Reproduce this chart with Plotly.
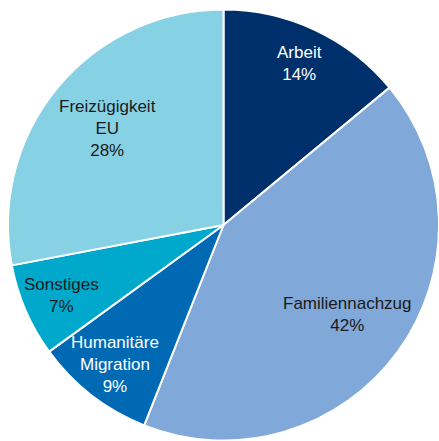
import math
import plotly.graph_objects as go

# Migration to Germany by reason (share in %)
categories = ["Arbeit", "Familiennachzug", "Humanitäre<br>Migration", "Sonstiges", "Freizügigkeit<br>EU"]
shares = [14, 42, 9, 7, 28]

colors = ["#00306B", "#80A8D8", "#0069B3", "#00A9CB", "#87D1E4"]
text_colors = ["#FFFFFF", "#1A1A1A", "#FFFFFF", "#1A1A1A", "#1A1A1A"]
label_radius = [0.83, 0.71, 0.82, 0.82, 0.70]  # label distance from centre, fraction of radius

W, H = 439, 441
dom_x = [8 / W, 1.0]
dom_y = [0.0, 432 / H]

fig = go.Figure(go.Pie(
    labels=categories,
    values=shares,
    sort=False,
    direction="clockwise",
    rotation=0,
    marker=dict(colors=colors, line=dict(color="#FFFFFF", width=2)),
    textinfo="none",
    hoverinfo="label+percent",
    showlegend=False,
    domain=dict(x=dom_x, y=dom_y),
))

# pie geometry in pixels (paper y measured upwards)
cx = (dom_x[0] + dom_x[1]) / 2 * W
cy = (dom_y[0] + dom_y[1]) / 2 * H
r = min((dom_x[1] - dom_x[0]) * W, (dom_y[1] - dom_y[0]) * H) / 2

total = sum(shares)
cum = 0
for name, v, tc, k in zip(categories, shares, text_colors, label_radius):
    theta = 2 * math.pi * (cum + v / 2) / total
    cum += v
    x = cx + k * r * math.sin(theta)
    y = cy + k * r * math.cos(theta)
    fig.add_annotation(
        x=x / W, y=y / H, xref="paper", yref="paper",
        text=f"{name}<br>{v}%", showarrow=False,
        xanchor="center", yanchor="middle", align="center",
        font=dict(family="Liberation Sans, Arial, sans-serif", size=17, color=tc),
    )

fig.update_layout(
    width=W, height=H,
    margin=dict(l=0, r=0, t=0, b=0),
    paper_bgcolor="#FFFFFF",
    plot_bgcolor="#FFFFFF",
)

fig.write_html("out.html")
